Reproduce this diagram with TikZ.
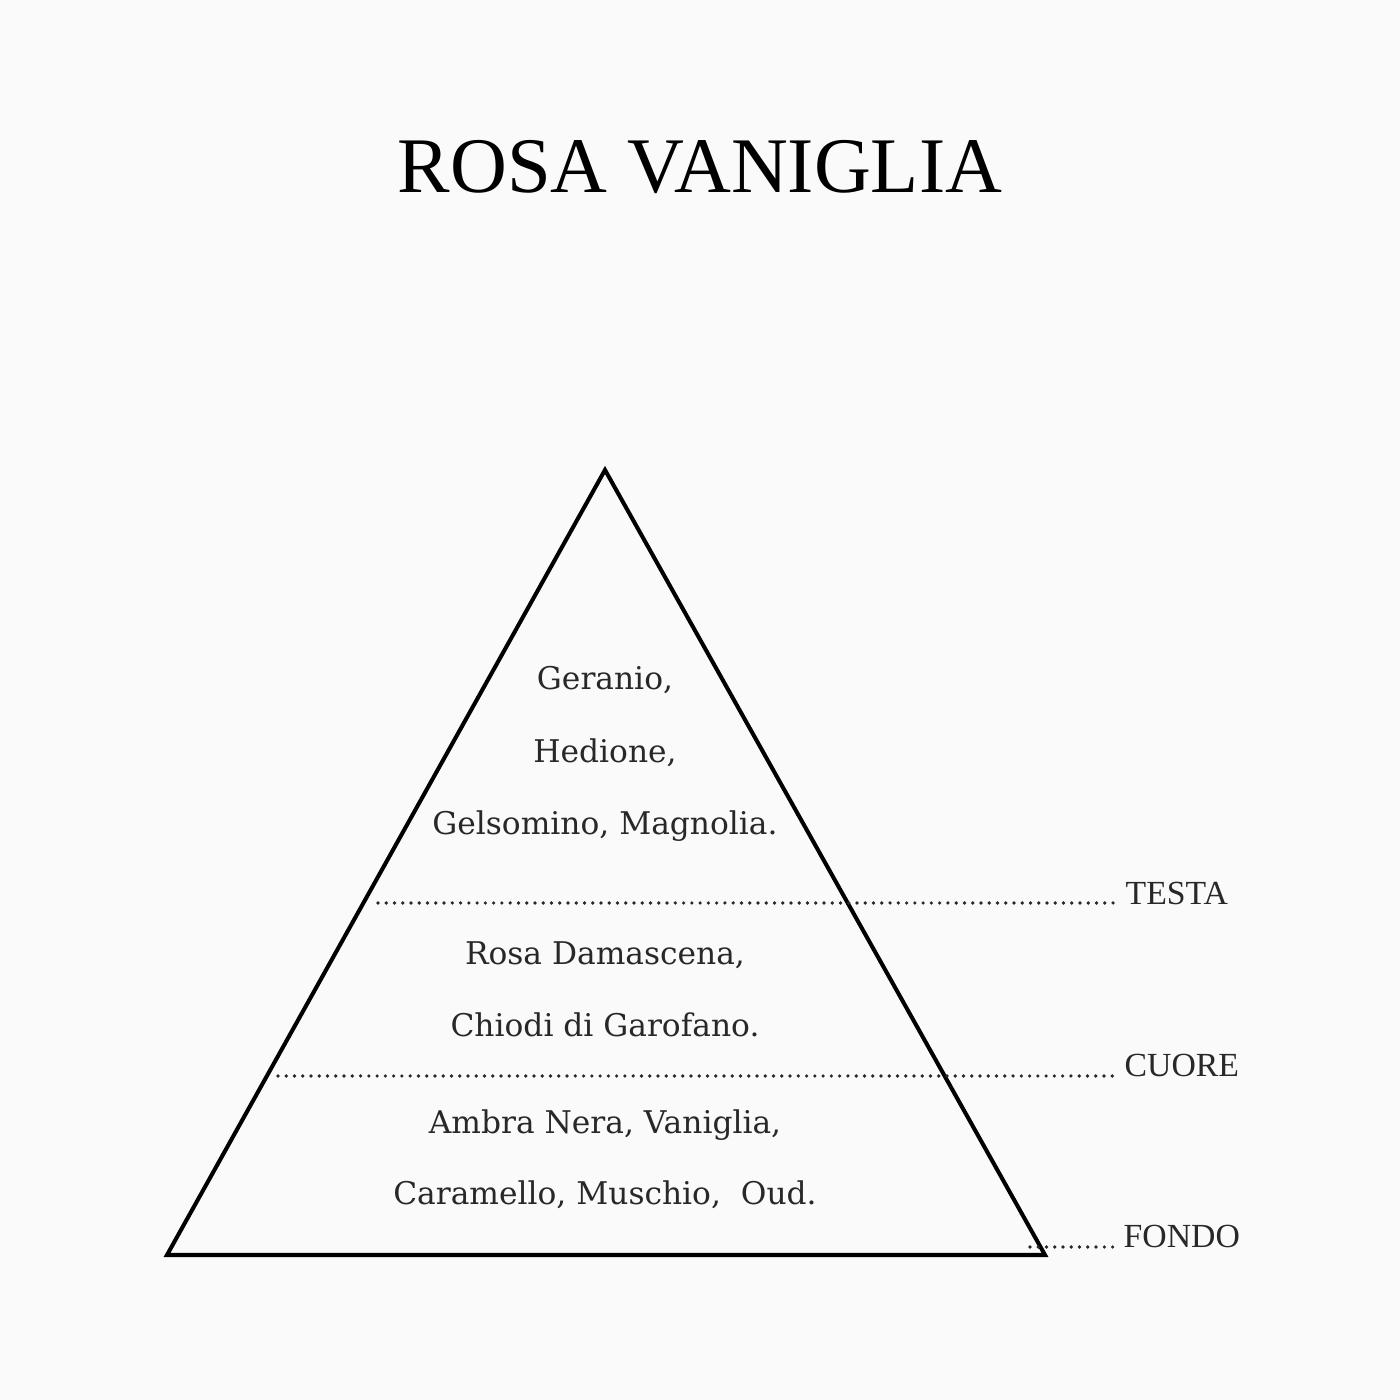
\documentclass[tikz,border=0pt]{standalone}
\usepackage{fontspec}
\setmainfont{Liberation Serif}
\newfontfamily\notefont{DejaVu Serif}
\usetikzlibrary{positioning}
\definecolor{PaperColor}{RGB}{250,250,250}
\definecolor{InkColor}{RGB}{40,40,40}
\tikzset{
  pyramid/.style={line width=1.15pt, line join=miter, black},
  dotline/.style={InkColor, line width=1.05pt, line cap=round, dash pattern=on 0pt off 2.35pt},
  note/.style={anchor=base, font=\notefont\fontsize{8.9}{10}\selectfont, text=InkColor, inner sep=0pt},
  level/.style={anchor=base west, font=\fontsize{9.6}{11}\selectfont, text=InkColor, inner sep=0pt}
}
\begin{document}
\begin{tikzpicture}
  \fill[PaperColor] (0,0) rectangle (14,14);
  \useasboundingbox (0,0) rectangle (14,14);

  % title
  \node[anchor=base, font=\fontsize{22.4}{25}\selectfont, inner sep=0pt] (title) at (7,12.07) {ROSA VANIGLIA};

  % pyramid
  \coordinate (apex) at (6.05,9.30);
  \coordinate (bl) at (1.67,1.45);
  \coordinate (br) at (10.45,1.45);
  \draw[pyramid] (apex) -- (br) -- (bl) -- cycle;

  % levels
  \node[level] (testa) at (11.25,4.95) {TESTA};
  \node[level] (cuore) at (11.24,3.23) {CUORE};
  \node[level] (fondo) at (11.23,1.52) {FONDO};
  \coordinate (testastart) at (3.78,4.97);
  \coordinate (cuorestart) at (2.78,3.24);
  \coordinate (fondostart) at (10.30,1.53);
  \draw[dotline] (testastart) -- ([xshift=-0.08cm]testa.base west |- testastart);
  \draw[dotline] (cuorestart) -- ([xshift=-0.08cm]cuore.base west |- cuorestart);
  \draw[dotline] (fondostart) -- ([xshift=-0.08cm]fondo.base west |- fondostart);

  % notes
  \node[note] (n1) at (6.05,7.10) {Geranio,};
  \node[note] (n2) at (6.05,6.37) {Hedione,};
  \node[note] (n3) at (6.05,5.65) {Gelsomino, Magnolia.};
  \node[note] (n4) at (6.05,4.35) {Rosa Damascena,};
  \node[note] (n5) at (6.05,3.63) {Chiodi di Garofano.};
  \node[note] (n6) at (6.05,2.66) {Ambra Nera, Vaniglia,};
  \node[note] (n7) at (6.05,1.95) {Caramello, Muschio,\ \ Oud.};
\end{tikzpicture}
\end{document}
